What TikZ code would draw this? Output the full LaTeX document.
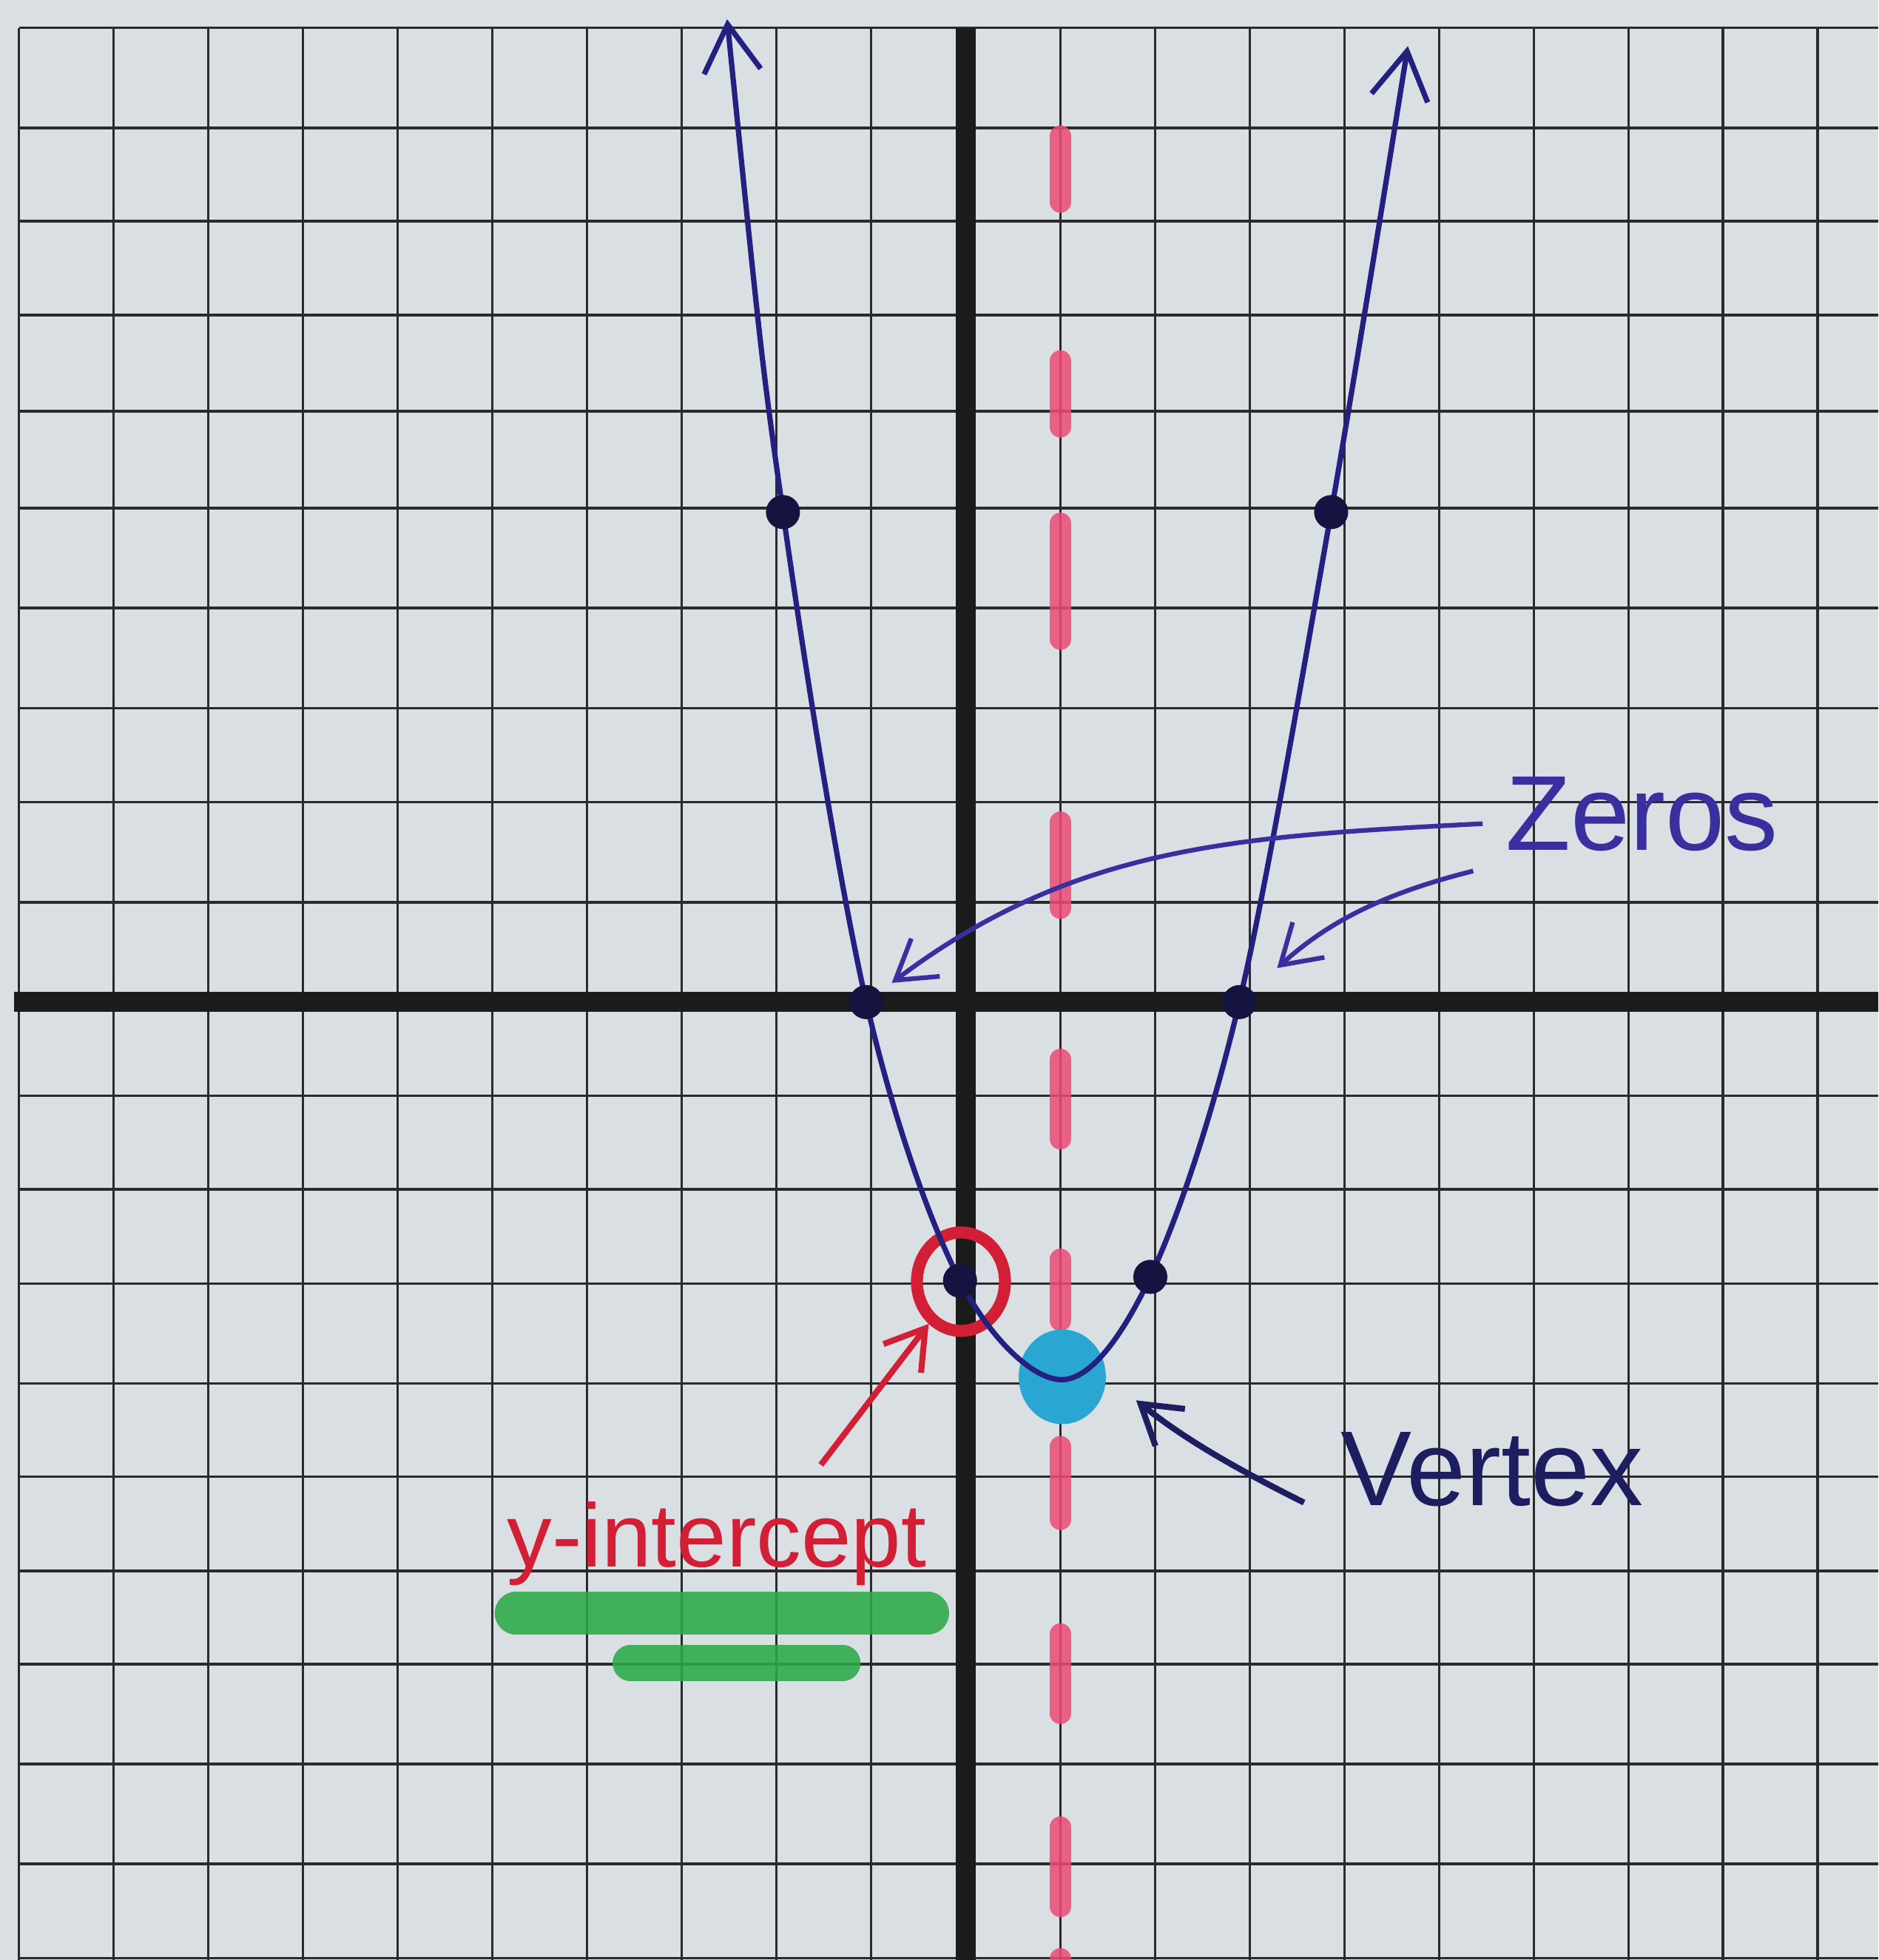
\documentclass[tikz,border=0pt]{standalone}
\usepackage{fontspec}
\setmainfont{Liberation Sans}
\usetikzlibrary{arrows.meta, positioning, calc, shapes.geometric}
\definecolor{paper}{HTML}{D9DFE2}
\definecolor{gridink}{HTML}{2A2A2A}
\definecolor{axisink}{HTML}{1B1B1B}
\definecolor{penblue}{HTML}{24207F}
\definecolor{labelblue}{HTML}{3A2F9E}
\definecolor{vertexnavy}{HTML}{1E1D60}
\definecolor{dotnavy}{HTML}{15133F}
\definecolor{markerpink}{HTML}{EE4A74}
\definecolor{markerred}{HTML}{D21F36}
\definecolor{markercyan}{HTML}{2AA6D2}
\definecolor{markergreen}{HTML}{2DAA48}
\tikzset{
  gridline/.style={draw=gridink, line width=0.8pt},
  axisline/.style={draw=axisink, line width=6pt},
  parab/.style={draw=penblue, line width=1.6pt, line cap=round, line join=round},
  ptdot/.style={circle, fill=dotnavy, inner sep=0pt, minimum size=3.6mm},
  pointer/.style={-{Straight Barb[length=4mm, width=5mm]}, line width=1.4pt, #1},
  handlabel/.style={font=\fontsize{32}{36}\selectfont, text=#1,
    inner sep=1pt, anchor=base},
  symdash/.style={markerpink, opacity=0.85, line width=6.5pt, line cap=round,
    shorten <=1.1mm, shorten >=1.1mm},
  greenmark/.style={markergreen, opacity=0.88, line width=#1, line cap=round}
}

\begin{document}
\begin{tikzpicture}[x=1cm, y=1.015cm]
  % Paper
  \useasboundingbox (-10.2,-9.97) rectangle (9.64,10.43);
  \fill[paper] (-10.2,-9.97) rectangle (9.64,10.43);
  % Grid
  \foreach \gx in {-10,...,9}
    \draw[gridline] (\gx,-9.97) -- (\gx,10.14);
  \foreach \gy in {-9.95,-8.97,-7.93,-6.89,-5.92,-4.94,-3.97,-2.93,-1.95,-0.975,
      1.04,2.08,3.06,4.1,5.14,6.15,7.15,8.13,9.1,10.14}
    \draw[gridline] (-10,\gy) -- (9.64,\gy);
  % Axis of symmetry
  \foreach \a/\b in {9.12/8.22, 6.78/5.88, 5.09/3.67, 1.98/0.87,
      -0.49/-1.53, -2.57/-3.42, -4.52/-5.49, -6.47/-7.51,
      -8.48/-9.52, -9.85/-10.3}
    \draw[symdash] (1,\a) -- (1,\b);
  % Axes
  \draw[axisline] (-10.05,0) -- (9.64,0);
  \draw[axisline] (0,10.14) -- (0,-9.97);
  % Markers
  \node[ellipse, fill=markercyan, minimum width=9.2mm, minimum height=10mm,
    inner sep=0pt] (vx) at (1.02,-3.9) {};
  \node[ellipse, draw=markerred, line width=3.6pt, minimum width=9.3mm,
    minimum height=10.4mm, inner sep=0pt] (ycirc) at (-0.05,-2.91) {};
  % Parabola
  \draw[parab, {Straight Barb[length=5mm, width=6mm]}-{Straight Barb[length=5mm, width=6mm]}]
    plot[smooth, tension=0.55] coordinates {(-2.52,10.23) (-1.93,5.1)
      (-1.05,0) (-0.06,-2.9) (1.02,-3.93) (1.95,-2.86) (2.89,0)
      (3.86,5.1) (4.67,9.95)};
  % Points
  \node[ptdot] (pl) at (-1.93,5.1) {};
  \node[ptdot] (pr) at (3.86,5.1) {};
  \node[ptdot] (zl) at (-1.05,0) {};
  \node[ptdot] (zr) at (2.89,0) {};
  \node[ptdot] (yi) at (-0.06,-2.9) {};
  \node[ptdot] (pq) at (1.95,-2.86) {};
  % Labels
  \node[handlabel=labelblue] (zeros) at (7.14,1.58) {Zeros};
  \node[handlabel=vertexnavy] (vtext) at (5.56,-5.24) {Vertex};
  \node[handlabel=markerred, font=\fontsize{27}{30}\selectfont]
    (yint) at (-2.63,-5.88) {y-intercept};
  % Pointers
  \draw[pointer=labelblue, shorten >=1.5mm]
    ([shift={(-2mm,-1mm)}]zeros.west) to[out=183, in=37] (zl);
  \draw[pointer=labelblue, shorten >=3.5mm]
    ([shift={(-3mm,-6mm)}]zeros.west) to[out=194, in=42] (zr);
  \draw[pointer=vertexnavy, line width=1.8pt, shorten >=4mm]
    ([shift={(-3.5mm,-3.5mm)}]vtext.west) to[bend left=6] (vx.east);
  \draw[pointer=markerred, line width=1.8pt]
    ([shift={(11mm,3.5mm)}]yint.north) -- (ycirc);
  % Highlighter
  \draw[greenmark=12.8pt] (-4.75,-6.36) -- (-0.4,-6.36);
  \draw[greenmark=10.8pt] (-3.54,-6.88) -- (-1.3,-6.88);
\end{tikzpicture}
\end{document}
